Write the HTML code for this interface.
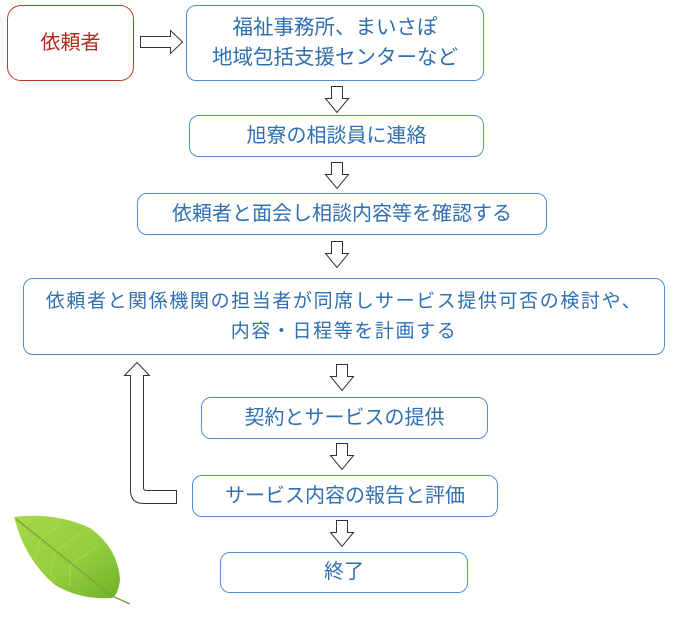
<!DOCTYPE html>
<html><head><meta charset="utf-8"><style>
body{margin:0;width:678px;height:619px;background:#fff;position:relative;overflow:hidden;font-family:"Liberation Sans","Noto Sans CJK JP",sans-serif}
.b{position:absolute;box-sizing:border-box;border:1.5px solid #4f8fcf;border-radius:10px;color:#2f6fb0;font-size:20px;display:flex;align-items:center;justify-content:center;text-align:center;line-height:25px;white-space:nowrap}
svg{position:absolute;left:0;top:0}
</style></head><body>
<div class="b" style="left:7px;top:5px;width:127px;height:76px;border-color:#c0392b;color:#b52a20;border-radius:14px;font-size:20px">依頼者</div>
<div class="b" style="left:186px;top:5px;width:298px;height:76px;font-size:20.5px;line-height:30px">福祉事務所、まいさぽ<br>地域包括支援センターなど</div>
<div class="b" style="left:189px;top:115px;width:295px;height:42px">旭寮の相談員に連絡</div>
<div class="b" style="left:137px;top:193px;width:410px;height:42px">依頼者と面会し相談内容等を確認する</div>
<div class="b" style="left:23px;top:278px;width:642px;height:77px;font-size:19px;letter-spacing:1.6px;line-height:30px">依頼者と関係機関の担当者が同席しサービス提供可否の検討や、<br>内容・日程等を計画する</div>
<div class="b" style="left:201px;top:397px;width:287px;height:42px">契約とサービスの提供</div>
<div class="b" style="left:192px;top:475px;width:306px;height:42px">サービス内容の報告と評価</div>
<div class="b" style="left:220px;top:552px;width:248px;height:41px">終了</div>
<svg width="678" height="619" fill="#fff" stroke="#333" stroke-width="1">
<polygon points="140.5,36.5 170.5,36.5 170.5,30.5 182.5,42 170.5,53.5 170.5,47.5 140.5,47.5"/>
<g id="d"><polygon points="331.5,86.5 342.5,86.5 342.5,98.5 348.5,98.5 337,112.5 325.5,98.5 331.5,98.5"/></g>
<use href="#d" transform="translate(0,76)"/>
<use href="#d" transform="translate(0,155)"/>
<use href="#d" transform="translate(5,278)"/>
<use href="#d" transform="translate(5,357)"/>
<use href="#d" transform="translate(5,434)"/>
<path d="M176.5,503.5 L143.5,503.5 Q130.5,503.5 130.5,490 L130.5,375.5 L124.5,375.5 L137,362.5 L149.5,375.5 L143.5,375.5 L143.5,488 Q143.5,490.5 147,490.5 L176.5,490.5 Z"/>
</svg>
<svg width="678" height="619">
<defs><linearGradient id="g" x1="0" y1="0" x2="1" y2="1"><stop offset="0" stop-color="#a8d848"/><stop offset="0.6" stop-color="#92cc3c"/><stop offset="1" stop-color="#70b02a"/></linearGradient></defs>
<path d="M14,517 Q55,512 90,528 Q118,548 120,580 Q118,595 112,598 Q80,600 55,585 Q25,560 14,517Z" fill="url(#g)"/>
<path d="M16,519 L112,596 L130,604" stroke="#7aa83a" stroke-width="1.5" fill="none"/>
<g stroke="#b6e060" stroke-width="1" opacity="0.6"><path d="M40,540 L60,525"/><path d="M55,552 L80,533"/><path d="M70,565 L100,545"/><path d="M40,540 L35,560"/><path d="M55,552 L50,575"/><path d="M70,565 L70,588"/></g>
</svg>
</body></html>
